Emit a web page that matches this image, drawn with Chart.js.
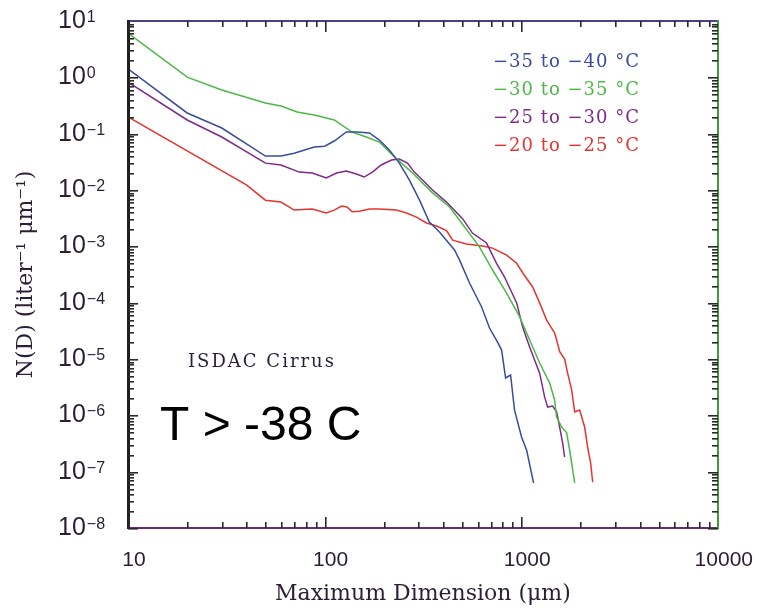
<!DOCTYPE html>
<html>
<head>
<meta charset="utf-8">
<script src="https://cdn.jsdelivr.net/npm/chart.js@4"></script>
<style>
html,body{margin:0;padding:0;background:#fff;}
#wrap{width:759px;height:608px;}
</style>
</head>
<body>
<div id="wrap"><canvas id="psd" width="759" height="608"></canvas></div>
<script>
// =========================================
// DATA
// =========================================

const seriesLabels = [
    "\u221235 to \u221240 \u00b0C",
    "\u221230 to \u221235 \u00b0C",
    "\u221225 to \u221230 \u00b0C",
    "\u221220 to \u221225 \u00b0C"
];

const xTickLabels = ["10", "100", "1000", "10000"];
const yExponents = [1, 0, -1, -2, -3, -4, -5, -6, -7, -8];

// -35 to -40
const blueD = [10, 20, 30, 50, 60, 70, 88.6, 100, 112, 129, 147, 169, 190, 214, 240, 270, 304, 341, 384, 458, 486, 546, 629, 690, 758, 795, 833, 883, 925, 1005, 1066, 1156];
const blueN = [1.41, 0.233, 0.126, 0.040, 0.040, 0.045, 0.058, 0.060, 0.074, 0.107, 0.107, 0.103, 0.077, 0.051, 0.030, 0.015, 0.0066, 0.0027, 0.0018, 0.00086, 0.00057, 0.000223, 8.4e-5, 3.55e-5, 2.0e-5, 1.44e-5, 4.6e-6, 5.2e-6, 1.24e-6, 4.1e-7, 2.4e-7, 6.3e-8];

// -30 to -35
const greenD = [10, 20, 30, 50, 60, 72.6, 88.6, 112, 138, 163, 190, 221, 280, 354, 432, 486, 614, 715, 843, 982, 1104, 1241, 1396, 1479, 1514, 1606, 1703, 1764, 1871];
const greenN = [6.1, 1.01, 0.596, 0.350, 0.310, 0.243, 0.214, 0.175, 0.107, 0.087, 0.071, 0.042, 0.020, 0.0089, 0.0050, 0.0029, 0.00097, 0.00038, 0.000148, 5.6e-5, 2.17e-5, 8.5e-6, 3.75e-6, 1.87e-6, 9.3e-7, 6.2e-7, 4.9e-7, 2.4e-7, 6.3e-8];

// -25 to -30
const purpleD = [10, 20, 30, 50, 60, 74.3, 86.5, 102, 115, 129, 145, 159, 175, 194, 219, 240, 264, 286, 315, 354, 417, 503, 565, 666, 749, 823, 948, 1017, 1104, 1170, 1241, 1316, 1363, 1445, 1514, 1569, 1625, 1663];
const purpleN = [0.826, 0.175, 0.0873, 0.030, 0.0278, 0.0208, 0.020, 0.0163, 0.020, 0.0217, 0.0192, 0.017, 0.0208, 0.0278, 0.034, 0.0355, 0.0301, 0.0208, 0.015, 0.010, 0.0061, 0.0031, 0.00172, 0.00115, 0.0005, 0.000285, 9.9e-5, 3.7e-5, 1.63e-5, 9.6e-6, 5.6e-6, 2.1e-6, 1.4e-6, 1.46e-6, 1.15e-6, 6.2e-7, 3.2e-7, 1.82e-7];

// -20 to -25
const redD = [10, 40, 50, 60, 70, 86.5, 102, 112, 122, 130, 138, 150, 169, 190, 232, 261, 293, 330, 371, 417, 448, 527, 636, 715, 843, 948, 1017, 1143, 1241, 1347, 1479, 1514, 1569, 1663, 1723, 1806, 1871, 1983, 2102, 2178, 2256, 2310];
const redN = [0.198, 0.0123, 0.0066, 0.0061, 0.0044, 0.0046, 0.0039, 0.0044, 0.0052, 0.0050, 0.0041, 0.0042, 0.0046, 0.0046, 0.0044, 0.0039, 0.0033, 0.0026, 0.0023, 0.0019, 0.00129, 0.0011, 0.00101, 0.00093, 0.0007, 0.0005, 0.00034, 0.00019, 9.9e-5, 4.9e-5, 2.9e-5, 2.2e-5, 1.35e-5, 1.0e-5, 5.6e-6, 2.8e-6, 1.15e-6, 1.24e-6, 6.2e-7, 2.7e-7, 1.42e-7, 6.5e-8];

// =========================================
// STYLE
// =========================================

const seriesColors = ["#3a4c9e", "#4cb847", "#7e2a8a", "#e6342f"];
const textColor = "#2a1f36";

function pts(xs, ys){
    return xs.map((x, i) => ({x: x, y: ys[i]}));
}

const allD = [blueD, greenD, purpleD, redD];
const allN = [blueN, greenN, purpleN, redN];

// =========================================
// FRAME, TICKS, LABELS, TEXT
// =========================================

const decorPlugin = {
    id: 'decor',
    afterDraw(chart){
        const c = chart.ctx;
        const a = chart.chartArea;
        const xs = chart.scales.x;
        const ys = chart.scales.y;
        const L = Math.round(a.left), R = Math.round(a.right);
        const T = Math.round(a.top), B = Math.round(a.bottom);
        c.save();

        // frame
        c.fillStyle = "#4b3f8e"; c.fillRect(L, T - 1, R - L, 2);
        c.fillStyle = "#6a2b7a"; c.fillRect(L, B - 1, R - L, 2);
        c.fillStyle = "#3f9a3c"; c.fillRect(R - 1, T - 1, 2, B - T + 2);
        c.fillStyle = "#1e1e1e"; c.fillRect(L - 1, T - 1, 3, B - T + 2);

        // tick marks on all four sides, pointing inward
        c.fillStyle = "#2a2a2a";
        for(let d = 10; d < 10000; d *= 10){
            for(let m = 1; m < 10; m++){
                const px = Math.round(xs.getPixelForValue(d*m));
                const len = m === 1 ? 11 : 6;
                c.fillRect(px, B - len, 1.6, len);
                c.fillRect(px, T, 1.6, len);
            }
        }
        for(let e = -8; e < 1; e++){
            for(let m = 1; m < 10; m++){
                const py = Math.round(ys.getPixelForValue(m*Math.pow(10, e)));
                const len = m === 1 ? 10 : 6;
                c.fillRect(L, py, len, 1.6);
                c.fillRect(R - len, py, len, 1.6);
            }
        }

        // y tick labels 10^n
        c.fillStyle = textColor;
        c.textAlign = "left";
        yExponents.forEach(e => {
            const py = ys.getPixelForValue(Math.pow(10, e));
            c.font = "25px 'Liberation Sans'";
            c.textBaseline = "middle";
            const x0 = a.left - 70;
            c.fillText("10", x0, py);
            const w = c.measureText("10").width;
            c.font = "16px 'Liberation Sans'";
            c.textBaseline = "alphabetic";
            c.fillText(e < 0 ? "\u2212" + (-e) : String(e), x0 + w + 1, py + 1);
        });

        // legend
        c.font = "18px 'DejaVu Serif'";
        c.letterSpacing = "1px";
        c.textBaseline = "middle";
        seriesLabels.forEach((t, i) => {
            c.fillStyle = seriesColors[i];
            c.fillText(t, a.left + 365, a.top + 41 + i*28);
        });

        // annotations
        c.fillStyle = textColor;
        c.textBaseline = "alphabetic";
        c.font = "18px 'DejaVu Serif'";
        c.letterSpacing = "2px";
        c.fillText("ISDAC Cirrus", a.left + 60, 367);
        c.letterSpacing = "0px";
        c.fillStyle = "#000";
        c.font = "48px 'Liberation Sans'";
        c.fillText("T > -38 C", a.left + 32, 440);

        c.restore();
    }
};

// =========================================
// CHART
// =========================================

const ctx = document.getElementById('psd');

const chart = new Chart(ctx, {

    type:'line',

    data:{
        datasets: seriesLabels.map((lab, i) => ({
            label: lab,
            data: pts(allD[i], allN[i]),
            borderColor: seriesColors[i],
            borderWidth: 1.5,
            pointRadius: 0,
            tension: 0,
            fill: false
        }))
    },

    options:{
        responsive:false,
        animation:false,
        layout:{ padding:{ top:21, right:31, left:0, bottom:0 } },
        plugins:{
            legend:{ display:false },
            tooltip:{ enabled:false }
        },
        scales:{
            x:{
                type:'logarithmic',
                min:10,
                max:10000,
                grid:{ display:false },
                border:{ display:false },
                ticks:{
                    autoSkip:false,
                    maxRotation:0,
                    padding:12,
                    labelOffset:6,
                    color:textColor,
                    font:{ family:'Liberation Sans', size:21 },
                    callback:(v) => xTickLabels.includes(String(v)) ? String(v) : ''
                },
                title:{
                    display:true,
                    text:'Maximum Dimension (\u03bcm)',
                    color:textColor,
                    font:{ family:'DejaVu Serif', size:22 },
                    padding:{ top:0, bottom:1 }
                },
                afterFit(s){ s.height = 80; }
            },
            y:{
                type:'logarithmic',
                min:1e-8,
                max:10,
                grid:{ display:false },
                border:{ display:false },
                ticks:{ display:false },
                title:{
                    display:true,
                    text:'N(D) (liter\u207b\u00b9 \u03bcm\u207b\u00b9)',
                    color:textColor,
                    font:{ family:'DejaVu Serif', size:22 },
                    padding:{ top:13, bottom:0 }
                },
                afterFit(s){ s.width = 128; }
            }
        }
    },

    plugins:[decorPlugin]
});
</script>
</body>
</html>
